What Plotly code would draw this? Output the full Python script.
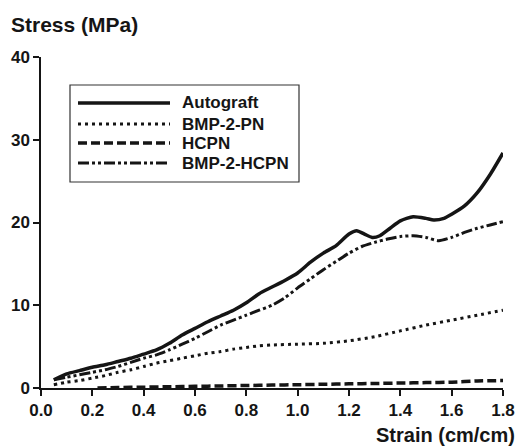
import plotly.graph_objects as go

# ---- data ----
autograft_x = [0.05, 0.1, 0.15, 0.2, 0.25, 0.3, 0.35, 0.4, 0.45, 0.5, 0.55, 0.6, 0.65, 0.7, 0.75,
               0.8, 0.85, 0.9, 0.95, 1.0, 1.05, 1.1, 1.15, 1.2, 1.23, 1.26, 1.29, 1.32, 1.36, 1.4,
               1.45, 1.5, 1.53, 1.57, 1.6, 1.65, 1.7, 1.75, 1.8]
autograft_y = [1.0, 1.7, 2.1, 2.5, 2.8, 3.2, 3.6, 4.1, 4.6, 5.4, 6.4, 7.2, 8.0, 8.7, 9.4,
               10.3, 11.4, 12.2, 13.0, 13.9, 15.2, 16.3, 17.2, 18.6, 19.0, 18.6, 18.2, 18.4, 19.3, 20.2,
               20.7, 20.5, 20.3, 20.5, 21.0, 22.0, 23.6, 25.8, 28.4]

bmp2pn_x = [0.05, 0.1, 0.15, 0.2, 0.25, 0.3, 0.35, 0.4, 0.45, 0.5, 0.55, 0.6, 0.65, 0.7, 0.75,
            0.8, 0.85, 0.9, 1.0, 1.1, 1.2, 1.3, 1.4, 1.5, 1.6, 1.7, 1.8]
bmp2pn_y = [0.4, 0.7, 0.9, 1.2, 1.5, 1.9, 2.2, 2.6, 3.0, 3.3, 3.6, 3.9, 4.2, 4.4, 4.7,
            4.9, 5.1, 5.2, 5.3, 5.4, 5.7, 6.2, 6.9, 7.6, 8.2, 8.8, 9.4]

hcpn_x = [0.22, 0.3, 0.4, 0.5, 0.6, 0.7, 0.8, 0.9, 1.0, 1.1, 1.2, 1.3, 1.4, 1.5, 1.6, 1.7, 1.8]
hcpn_y = [0.0, 0.05, 0.1, 0.15, 0.2, 0.25, 0.3, 0.35, 0.4, 0.45, 0.5, 0.55, 0.6, 0.65, 0.7, 0.85, 0.9]

bmp2hcpn_x = [0.05, 0.1, 0.15, 0.2, 0.25, 0.3, 0.35, 0.4, 0.45, 0.5, 0.55, 0.6, 0.65, 0.7, 0.75,
              0.8, 0.85, 0.9, 0.95, 1.0, 1.05, 1.1, 1.15, 1.2, 1.25, 1.3, 1.35, 1.4, 1.45, 1.5,
              1.55, 1.6, 1.65, 1.7, 1.75, 1.8]
bmp2hcpn_y = [1.0, 1.3, 1.6, 1.9, 2.2, 2.6, 3.1, 3.6, 4.0, 4.6, 5.3, 6.0, 6.8, 7.6, 8.2,
              8.8, 9.4, 10.0, 10.9, 12.1, 13.2, 14.3, 15.3, 16.3, 17.1, 17.6, 18.0, 18.3, 18.4, 18.2,
              17.8, 18.2, 18.8, 19.3, 19.7, 20.1]

series_names = ["Autograft", "BMP-2-PN", "HCPN", "BMP-2-HCPN"]
x_ticks = [0.0, 0.2, 0.4, 0.6, 0.8, 1.0, 1.2, 1.4, 1.6, 1.8]
x_tick_labels = ["0.0", "0.2", "0.4", "0.6", "0.8", "1.0", "1.2", "1.4", "1.6", "1.8"]
y_ticks = [0, 10, 20, 30, 40]
y_tick_labels = ["0", "10", "20", "30", "40"]

# ---- styles ----
ink = "#151515"
font_family = "Liberation Sans, Arial, sans-serif"
styles = [
    dict(width=3.5, dash="solid"),
    dict(width=3.0, dash="3px,4px"),
    dict(width=3.5, dash="9px,4px"),
    dict(width=3.0, dash="11px,3px,3px,3px,3px,3px"),
]
data = [(autograft_x, autograft_y), (bmp2pn_x, bmp2pn_y), (hcpn_x, hcpn_y), (bmp2hcpn_x, bmp2hcpn_y)]

fig = go.Figure()
for (xs, ys), name, st in zip(data, series_names, styles):
    fig.add_trace(go.Scatter(x=xs, y=ys, mode="lines", name=name, showlegend=False,
                             line=dict(color=ink, width=st["width"], dash=st["dash"], shape="spline", smoothing=0.6)))

# ---- layout ----
W, H = 519, 446
ml, mt = 41, 57
pw, ph = 462, 331
mr, mb = W - ml - pw, H - mt - ph


def px_x(p):
    return (p - ml) / pw


def px_y(p):
    return (mt + ph - p) / ph


shapes = []
annotations = []
# legend box
shapes.append(dict(type="rect", xref="paper", yref="paper",
                   x0=px_x(70), x1=px_x(299), y0=px_y(182), y1=px_y(85),
                   line=dict(color="#333333", width=1.2), fillcolor="white", layer="above"))
rows = [103, 124, 143, 163]
for name, st, r in zip(series_names, styles, rows):
    shapes.append(dict(type="line", xref="paper", yref="paper",
                       x0=px_x(78), x1=px_x(170), y0=px_y(r), y1=px_y(r),
                       line=dict(color=ink, width=st["width"], dash=st["dash"]), layer="above"))
    annotations.append(dict(text=name, xref="paper", yref="paper", x=px_x(180), y=px_y(r),
                            xanchor="left", yanchor="middle", showarrow=False,
                            font=dict(size=17, color=ink, family=font_family, weight="bold")))

annotations.append(dict(text="Stress (MPa)", xref="paper", yref="paper", x=px_x(9), y=px_y(25),
                        xanchor="left", yanchor="middle", showarrow=False,
                        font=dict(size=21, color=ink, family=font_family, weight="bold")))
annotations.append(dict(text="Strain (cm/cm)", xref="paper", yref="paper", x=px_x(517), y=px_y(435),
                        xanchor="right", yanchor="middle", showarrow=False,
                        font=dict(size=20, color=ink, family=font_family, weight="bold")))

axis_common = dict(showgrid=False, zeroline=False, showline=True, linecolor=ink, linewidth=1.5,
                   ticks="outside", ticklen=6, tickwidth=1.5, tickcolor=ink, automargin=False,
                   tickfont=dict(size=17, color=ink, family=font_family, weight="bold"))

fig.update_layout(
    width=W, height=H,
    margin=dict(l=ml, r=mr, t=mt, b=mb),
    paper_bgcolor="white", plot_bgcolor="white",
    xaxis=dict(range=[0, 1.8], tickvals=x_ticks, ticktext=x_tick_labels, **axis_common),
    yaxis=dict(range=[0, 40], tickvals=y_ticks, ticktext=y_tick_labels, **axis_common),
    shapes=shapes, annotations=annotations, showlegend=False,
)

fig.write_html("out.html", config={"displayModeBar": False},
               post_script="document.body.style.margin='0';document.body.style.overflow='hidden';")
